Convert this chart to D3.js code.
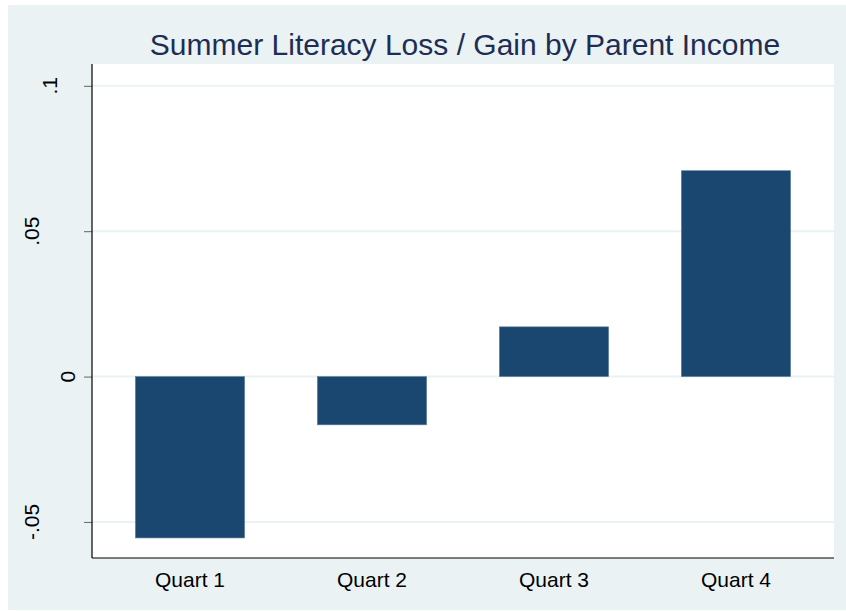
<!DOCTYPE html>
<html lang="en">
<head>
  <meta charset="UTF-8" />
  <title>Summer Literacy Loss / Gain by Parent Income</title>
  <script src="https://d3js.org/d3.v7.min.js"></script>
  <style>
    html, body {
      margin: 0;
      padding: 0;
      background: white;
    }
    svg {
      display: block;
    }
  </style>
</head>
<body>
  <svg id="chart" width="846" height="611"></svg>
  <script>
    // data
    const categories = ['Quart 1', 'Quart 2', 'Quart 3', 'Quart 4'];
    const values = [-0.0555, -0.0166, 0.0171, 0.0708];
    const yTicks = [-0.05, 0, 0.05, 0.1];
    const yTickLabels = ['-.05', '0', '.05', '.1'];
    const title = 'Summer Literacy Loss / Gain by Parent Income';

    const svg = d3.select('#chart');
    const width = +svg.attr('width');
    const height = +svg.attr('height');

    const plot = { left: 92, right: 834, top: 64, bottom: 558 };
    const font = 'Arial, "Liberation Sans", sans-serif';

    // outer stata-like background
    svg.append('rect')
      .attr('x', 8)
      .attr('y', 5)
      .attr('width', width - 8)
      .attr('height', height - 6)
      .attr('fill', '#eaf2f3');

    svg.append('rect')
      .attr('x', plot.left)
      .attr('y', plot.top)
      .attr('width', plot.right - plot.left)
      .attr('height', plot.bottom - plot.top)
      .attr('fill', 'white');

    const x = d3.scaleBand()
      .domain(categories)
      .range([plot.left, plot.right])
      .paddingInner(0.4)
      .paddingOuter(0.2385);

    const y = d3.scaleLinear()
      .domain([-0.0624, 0.1075])
      .range([plot.bottom, plot.top]);

    // gridlines
    svg.append('g')
      .selectAll('line')
      .data(yTicks)
      .join('line')
      .attr('x1', plot.left)
      .attr('x2', plot.right)
      .attr('y1', d => y(d))
      .attr('y2', d => y(d))
      .attr('stroke', '#eaf2f3')
      .attr('stroke-width', 2);

    // bars
    svg.append('g')
      .selectAll('rect')
      .data(values)
      .join('rect')
      .attr('x', (d, i) => x(categories[i]))
      .attr('y', d => y(Math.max(0, d)))
      .attr('width', x.bandwidth())
      .attr('height', d => Math.abs(y(d) - y(0)))
      .attr('fill', '#1a476f')
      .attr('stroke', '#5a7d9c')
      .attr('stroke-width', 0.6);

    // y axis
    const yAxis = svg.append('g')
      .attr('transform', `translate(${plot.left},0)`)
      .call(d3.axisLeft(y).tickValues(yTicks).tickSize(8).tickFormat(''));
    yAxis.select('.domain').remove();
    yAxis.selectAll('.tick line').attr('stroke', '#666');

    svg.append('line')
      .attr('x1', plot.left)
      .attr('x2', plot.left)
      .attr('y1', plot.top)
      .attr('y2', plot.bottom)
      .attr('stroke', '#000')
      .attr('stroke-width', 1.2);

    // rotated y labels, offset by label length like the original
    svg.append('g')
      .selectAll('text')
      .data(yTicks)
      .join('text')
      .attr('transform', (d, i) => {
        const bx = Math.max(39, 93 - 18 * yTickLabels[i].length);
        return `translate(${bx},${y(d)}) rotate(-90)`;
      })
      .attr('text-anchor', 'middle')
      .attr('font-family', font)
      .attr('font-size', 21)
      .attr('fill', '#000')
      .text((d, i) => yTickLabels[i]);

    // x axis
    const xAxis = svg.append('g')
      .attr('transform', `translate(0,${plot.bottom})`)
      .call(d3.axisBottom(x).tickSize(0).tickPadding(0));
    xAxis.select('.domain').remove();
    xAxis.selectAll('.tick text')
      .attr('y', 28.5)
      .attr('dy', 0)
      .attr('font-family', font)
      .attr('font-size', 21)
      .attr('fill', '#000');

    svg.append('line')
      .attr('x1', plot.left)
      .attr('x2', plot.right)
      .attr('y1', plot.bottom)
      .attr('y2', plot.bottom)
      .attr('stroke', '#000')
      .attr('stroke-width', 1.2);

    // title
    svg.append('text')
      .attr('x', 465)
      .attr('y', 54.5)
      .attr('text-anchor', 'middle')
      .attr('font-family', font)
      .attr('font-size', 30)
      .attr('fill', '#1e2d53')
      .text(title);
  </script>
</body>
</html>
